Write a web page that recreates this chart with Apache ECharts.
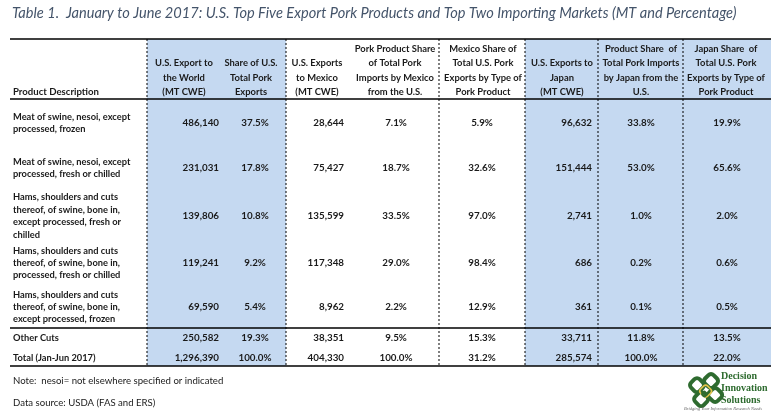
<!DOCTYPE html>
<html><head><meta charset="utf-8">
<script src="https://cdn.jsdelivr.net/npm/echarts@6/dist/echarts.min.js"></script>
<style>html,body{margin:0;padding:0;background:#fff}#c{width:779px;height:416px}</style>
</head><body><div id="c"></div>
<script>
// ---- data ----
const title = "Table 1.  January to June 2017: U.S. Top Five Export Pork Products and Top Two Importing Markets (MT and Percentage)";
const headers = [
  ["U.S. Export to","the World","(MT CWE)"],
  ["Share of U.S.","Total Pork","Exports"],
  ["U.S. Exports","to Mexico","(MT CWE)"],
  ["Pork Product Share","of Total Pork","Imports by Mexico","from the U.S."],
  ["Mexico Share of","Total U.S. Pork","Exports by Type of","Pork Product"],
  ["U.S. Exports to","Japan","(MT CWE)"],
  ["Product Share  of","Total Pork Imports","by Japan from the","U.S."],
  ["Japan Share  of","Total U.S. Pork","Exports by Type of","Pork Product"]
];
const descHeader = "Product Description";
const products = [
  ["Meat of swine, nesoi, except","processed, frozen"],
  ["Meat of swine, nesoi, except","processed, fresh or chilled"],
  ["Hams, shoulders and cuts","thereof, of swine, bone in,","except processed, fresh or","chilled"],
  ["Hams, shoulders and cuts","thereof, of swine, bone in,","processed, fresh or chilled"],
  ["Hams, shoulders and cuts","thereof, of swine, bone in,","except processed, frozen"],
  ["Other Cuts"],
  ["Total (Jan-Jun 2017)"]
];
const worldExport = [486140,231031,139806,119241,69590,250582,1296390];
const worldShare = [37.5,17.8,10.8,9.2,5.4,19.3,100.0];
const mexicoExport = [28644,75427,135599,117348,8962,38351,404330];
const mexicoProductShare = [7.1,18.7,33.5,29.0,2.2,9.5,100.0];
const mexicoShare = [5.9,32.6,97.0,98.4,12.9,15.3,31.2];
const japanExport = [96632,151444,2741,686,361,33711,285574];
const japanProductShare = [33.8,53.0,1.0,0.2,0.1,11.8,100.0];
const japanShare = [19.9,65.6,2.0,0.6,0.5,13.5,22.0];
const note = "Note:  nesoi= not elsewhere specified or indicated";
const source = "Data source: USDA (FAS and ERS)";

// ---- layout ----
const W = 779, H = 416;
const FONT = 'Lato, "Open Sans", sans-serif';
const tableLeft = 10, tableRight = 771, tableTop = 39, headBottom = 99, sepLine = 328, tableBottom = 366;
const dottedX = [147,286,439,525,598,683];
const blueBands = [[147,286],[525,771]];
const headerX = [184,251,317,395,483,562,641,726];
const headerBase = 92, headerStep = 14.5;
const valueX = [219,255,344,396,482,592,641,727];
const valueAlign = ['right','center','right','center','center','right','center','center'];
const rowY = [123,168,216,263,307,338,358];
const descStep = 12.4;

const columns = [worldExport, worldShare, mexicoExport, mexicoProductShare, mexicoShare, japanExport, japanProductShare, japanShare];
const isPct = [false,true,false,true,true,false,true,true];
const fmt = (v,p) => p ? v.toFixed(1) + '%' : v.toLocaleString('en-US');

// build cell list
const cells = [];
cells.push({x:12, y:13, text:title, align:'left', font:'italic 14.6px ' + FONT, color:'#44546A'});
cells.push({x:13, y:headerBase, text:descHeader, align:'left', font:'bold 9.6px ' + FONT, color:'#1a1a1a'});
headers.forEach((lines,c) => {
  lines.forEach((t,i) => {
    cells.push({x:headerX[c], y:headerBase - (lines.length-1-i)*headerStep, text:t, align:'center', font:'bold 9.4px ' + FONT, color:'#1a1a1a'});
  });
});
products.forEach((lines,r) => {
  lines.forEach((t,i) => {
    cells.push({x:13, y:rowY[r] + (i - (lines.length-1)/2)*descStep, text:t, align:'left', font:'bold 9.3px ' + FONT, color:'#1a1a1a'});
  });
  columns.forEach((arr,c) => {
    cells.push({x:valueX[c], y:rowY[r], text:fmt(arr[r], isPct[c]), align:valueAlign[c], font:'bold 9.8px ' + FONT, color:'#1a1a1a'});
  });
});
cells.push({x:13, y:381, text:note, align:'left', font:'9.6px ' + FONT, color:'#1a1a1a'});
cells.push({x:13, y:403, text:source, align:'left', font:'9.6px ' + FONT, color:'#1a1a1a'});

const rects = blueBands.map(b => [b[0], tableTop, b[1], tableBottom]);
const lines = [];
[tableTop, headBottom, sepLine, tableBottom].forEach(y => lines.push({x1:tableLeft, y1:y, x2:tableRight, y2:y, dash:null, w:1.6}));
dottedX.forEach(x => lines.push({x1:x, y1:tableTop, x2:x, y2:tableBottom, dash:[2,2], w:1}));

const G = '#2E6B2F';
const loop = (cx, cy, s, stroke, lw) => ({type:'rect', x:cx - s/2, y:cy - s/2, shape:{width:s,height:s,r:s*0.3}, rotation:Math.PI/4, originX:cx, originY:cy, style:{fill:'none', stroke:stroke, lineWidth:lw}});

const chart = echarts.init(document.getElementById('c'), null, {renderer:'canvas'});
chart.setOption({
  animation:false,
  grid:{left:0,right:0,top:0,bottom:0},
  xAxis:{type:'value', min:0, max:W, show:false},
  yAxis:{type:'value', min:0, max:H, inverse:true, show:false},
  series:[
    {type:'custom', clip:false, z:1, data:rects,
     renderItem:(p,api)=>{ const a=api.coord([api.value(0),api.value(1)]), b=api.coord([api.value(2),api.value(3)]);
       return {type:'rect', shape:{x:a[0],y:a[1],width:b[0]-a[0],height:b[1]-a[1]}, style:{fill:'#C5D9F1'}}; }},
    {type:'custom', clip:false, z:2, data:lines.map(l=>[l.x1,l.y1,l.x2,l.y2]),
     renderItem:(p,api)=>{ const l=lines[p.dataIndex]; const a=api.coord([l.x1,l.y1]), b=api.coord([l.x2,l.y2]);
       return {type:'line', shape:{x1:a[0],y1:a[1],x2:b[0],y2:b[1]}, style:{stroke:'#000', lineWidth:l.w, lineDash:l.dash}}; }},
    {type:'custom', clip:false, z:3, data:cells.map(c=>[c.x,c.y]),
     renderItem:(p,api)=>{ const c=cells[p.dataIndex]; const a=api.coord([c.x,c.y]);
       return {type:'text', x:a[0], y:a[1], style:{text:c.text, font:c.font, fill:c.color, align:c.align, textAlign:c.align, verticalAlign:'middle'}}; }}
  ],
  graphic:[
    {type:'group', left:685, top:369, children:[
      loop(16, 8, 12, G, 4),
      loop(16, 22, 12, G, 4),
      loop(9, 15, 12, G, 4),
      loop(23, 15, 12, G, 4),
      loop(16, 15, 10, '#E3C34A', 1.6),
      loop(16, 15, 4, G, 2)
    ]},
    {type:'text', left:721, top:371, style:{text:'Decision', font:'bold 10px "Liberation Serif", serif', fill:G}},
    {type:'text', left:721, top:383, style:{text:'Innovation', font:'bold 10px "Liberation Serif", serif', fill:G}},
    {type:'text', left:721, top:395, style:{text:'Solutions', font:'bold 10px "Liberation Serif", serif', fill:G}},
    {type:'text', left:684, top:406, style:{text:'Bridging Your Information Research Needs', font:'italic 4.5px "Liberation Serif", serif', fill:'#666'}}
  ]
});
</script></body></html>
